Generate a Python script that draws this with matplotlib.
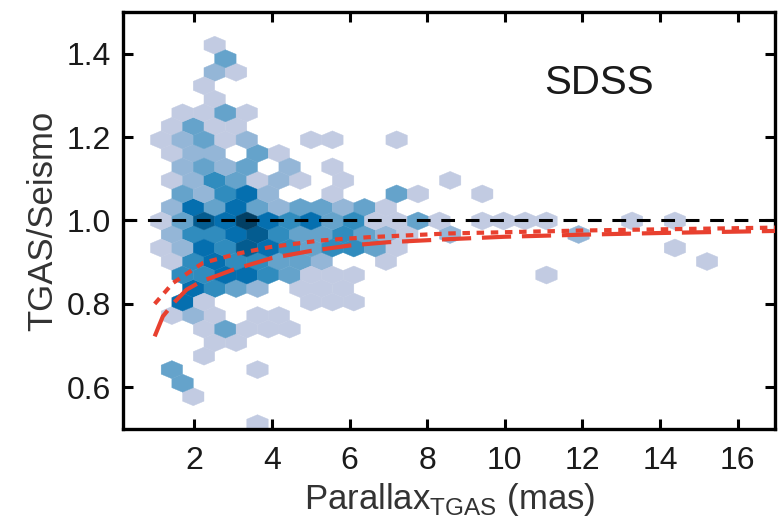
import numpy as np
import matplotlib
matplotlib.use("Agg")
import matplotlib.pyplot as plt
from matplotlib.colors import ListedColormap

# ---------------------------------------------------------------------------
# Hexagon cells: one ratio value per row of hexagons,
# with the parallax centres and star counts of the filled cells in that row
# ---------------------------------------------------------------------------
row_ratio = [1.420, 1.388, 1.356, 1.323, 1.291, 1.258, 1.226, 1.193, 1.161,
             1.129, 1.096, 1.064, 1.031, 0.999, 0.967, 0.934, 0.902, 0.869,
             0.837, 0.804, 0.772, 0.740, 0.707, 0.675, 0.642, 0.610, 0.578,
             0.513]

row_parallax = [
    [2.53],
    [2.80],
    [2.53, 3.08],
    [2.25],
    [2.53],
    [1.70, 2.25, 2.80, 3.35],
    [1.42, 1.97, 2.53, 3.08],
    [1.15, 1.70, 2.25, 2.80, 3.35, 5.01, 5.56, 7.21],
    [1.42, 1.97, 2.53, 3.63, 4.18],
    [1.70, 2.25, 2.80, 3.35, 4.46, 5.56],
    [1.42, 1.97, 2.53, 3.08, 3.63, 4.18, 4.73, 5.84, 8.59],
    [1.70, 2.25, 2.80, 3.35, 3.90, 5.56, 7.21, 7.77, 9.42],
    [1.42, 1.97, 2.53, 3.08, 3.63, 4.18, 4.73, 5.28, 5.84, 6.39, 6.94],
    [1.15, 1.70, 2.25, 2.80, 3.35, 3.90, 4.46, 5.01, 5.56, 6.11, 6.66, 7.21,
     7.77, 8.32, 9.42, 9.97, 10.52, 11.07, 13.28, 14.38],
    [1.42, 1.97, 2.53, 3.08, 3.63, 4.18, 4.73, 5.28, 5.84, 6.39, 6.94, 7.49,
     8.59, 11.90],
    [1.15, 1.70, 2.25, 2.80, 3.35, 3.90, 4.46, 5.01, 5.56, 6.11, 6.66, 7.21,
     14.38],
    [1.42, 1.97, 2.53, 3.08, 3.63, 4.18, 4.73, 5.28, 6.94, 15.21],
    [1.70, 2.25, 2.80, 3.35, 3.90, 4.46, 5.01, 5.56, 6.11, 11.07],
    [1.97, 2.53, 3.08, 3.63, 4.73, 5.28, 5.84],
    [1.70, 2.25, 5.01, 5.56, 6.11],
    [1.42, 1.97, 2.53, 3.63, 4.18],
    [2.25, 2.80, 3.35, 3.90, 4.46],
    [2.53, 3.08],
    [2.25],
    [1.42, 3.63],
    [1.70],
    [1.97],
    [3.63],
]

row_count = [
    [1],
    [3],
    [2, 1],
    [1],
    [1],
    [1, 1, 3, 1],
    [1, 3, 1, 1],
    [1, 2, 3, 1, 2, 1, 1, 1],
    [1, 2, 2, 3, 1],
    [2, 3, 2, 3, 2, 1],
    [1, 2, 4, 3, 1, 2, 1, 1, 1],
    [3, 2, 4, 5, 2, 1, 3, 1, 1],
    [2, 5, 3, 5, 3, 2, 3, 3, 2, 3, 1],
    [1, 3, 6, 5, 7, 5, 4, 5, 3, 4, 1, 1, 3, 1, 1, 1, 1, 1, 1, 1],
    [2, 4, 4, 5, 6, 4, 3, 3, 4, 3, 2, 1, 2, 2],
    [1, 2, 5, 4, 6, 5, 4, 3, 4, 4, 3, 1, 1],
    [1, 4, 5, 4, 4, 3, 3, 2, 1, 1],
    [4, 4, 5, 5, 4, 3, 1, 1, 1, 1],
    [5, 4, 3, 2, 1, 1, 1],
    [5, 1, 1, 1, 1],
    [1, 2, 1, 1, 1],
    [1, 3, 1, 1, 1],
    [1, 1],
    [1],
    [3, 1],
    [3],
    [1],
    [1],
]

# red model curves
dotted_x = [0.98, 1.45, 2.22, 3.09, 3.94, 5.23, 6.5, 8.58, 12.0, 17.0]
dotted_y = [0.800, 0.850, 0.898, 0.920, 0.936, 0.952, 0.960, 0.969, 0.976, 0.983]
dashed_x = [0.98, 1.19, 1.5, 1.8, 2.2, 2.6, 3.0, 3.5, 4.0, 5.0, 6.0, 7.0,
            8.5, 10.0, 12.0, 14.0, 17.0]
dashed_y = [0.722, 0.770, 0.805, 0.834, 0.855, 0.868, 0.882, 0.896, 0.910,
            0.927, 0.940, 0.948, 0.955, 0.961, 0.966, 0.970, 0.975]

x_ticks = [2, 4, 6, 8, 10, 12, 14, 16]
y_ticks = [0.6, 0.8, 1.0, 1.2, 1.4]

# ---------------------------------------------------------------------------
# Style
# ---------------------------------------------------------------------------
plt.rcParams["font.family"] = ["Liberation Sans", "DejaVu Sans"]
plt.rcParams["mathtext.fontset"] = "custom"
plt.rcParams["mathtext.rm"] = "Liberation Sans"

hex_x, hex_y, hex_c = [], [], []
for ratio, pars, counts in zip(row_ratio, row_parallax, row_count):
    for p, c in zip(pars, counts):
        hex_x.append(p)
        hex_y.append(ratio)
        hex_c.append(c)

# count level -> position along PuBu (lavender for single stars, navy at top)
level_pos = [0.29, 0.42, 0.53, 0.64, 0.75, 0.86, 0.97]
n_levels = len(level_pos)
cmap = ListedColormap(plt.get_cmap("PuBu")(level_pos))

fig = plt.figure(figsize=(7.8, 5.25), dpi=100)
ax = fig.add_axes([0.158, 0.183, 0.836, 0.794])

ax.hexbin(hex_x, hex_y, C=hex_c, reduce_C_function=np.max,
          gridsize=(30, 15), extent=(0.32, 16.865, 0.5125, 1.48525),
          cmap=cmap, vmin=0.5, vmax=n_levels + 0.5, linewidths=0.3,
          zorder=1)

ax.axhline(1.0, color="black", lw=2.2, ls=(0, (4.5, 3.5)), zorder=2)
ax.plot(dotted_x, dotted_y, color="#e8402f", lw=3.0, ls=(0, (1.8, 1.6)),
        zorder=3)
ax.plot(dashed_x, dashed_y, color="#e8402f", lw=3.0, ls=(0, (7, 2.6)),
        zorder=3)

ax.text(0.73, 0.83, "SDSS", transform=ax.transAxes, fontsize=29,
        ha="center", va="center", color="#1a1a1a")

ax.set_xlim(0.17, 16.97)
ax.set_ylim(0.5, 1.5)
ax.set_xticks(x_ticks)
ax.set_yticks(y_ticks)
ax.set_yticklabels([f"{t:.1f}" for t in y_ticks])
ax.tick_params(direction="in", top=True, right=True, length=7, width=2.2,
               labelsize=23, pad=9, labelcolor="#1a1a1a")
ax.tick_params(axis="x", pad=12)
for s in ax.spines.values():
    s.set_linewidth(2.4)

ax.set_xlabel(r"Parallax$_{\mathrm{TGAS}}$ (mas)", fontsize=25, labelpad=4,
              color="#333333")
ax.set_ylabel("TGAS/Seismo", fontsize=25, labelpad=5, color="#333333")

fig.savefig("out.png", dpi=100)
